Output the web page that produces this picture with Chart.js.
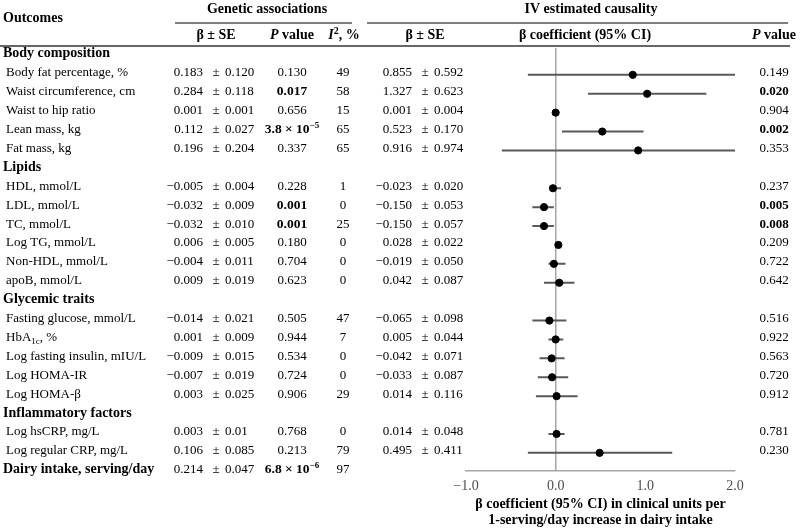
<!DOCTYPE html>
<html>
<head>
<meta charset="utf-8">
<script src="https://cdn.jsdelivr.net/npm/chart.js@4.4.1/dist/chart.umd.min.js"></script>
<style>
  body { margin: 0; background: #fff; }
</style>
</head>
<body>
<canvas id="grafico" width="800" height="532"></canvas>
<script>
// linhas da tabela ('_' = subscrito, '^' = sobrescrito)
const outcomes = [
    'Body composition', 'Body fat percentage, %', 'Waist circumference, cm', 'Waist to hip ratio',
    'Lean mass, kg', 'Fat mass, kg',
    'Lipids', 'HDL, mmol/L', 'LDL, mmol/L', 'TC, mmol/L', 'Log TG, mmol/L', 'Non-HDL, mmol/L', 'apoB, mmol/L',
    'Glycemic traits', 'Fasting glucose, mmol/L', 'HbA_1c, %', 'Log fasting insulin, mIU/L', 'Log HOMA-IR', 'Log HOMA-β',
    'Inflammatory factors', 'Log hsCRP, mg/L', 'Log regular CRP, mg/L',
    'Dairy intake, serving/day'
];
const boldRows = [0, 6, 13, 19, 22];

// Genetic associations
const genBeta = [null, '0.183', '0.284', '0.001', '0.112', '0.196', null, '−0.005', '−0.032', '−0.032', '0.006', '−0.004', '0.009',
    null, '−0.014', '0.001', '−0.009', '−0.007', '0.003', null, '0.003', '0.106', '0.214'];
const genSE = [null, '0.120', '0.118', '0.001', '0.027', '0.204', null, '0.004', '0.009', '0.010', '0.005', '0.011', '0.019',
    null, '0.021', '0.009', '0.015', '0.019', '0.025', null, '0.01', '0.085', '0.047'];
const genP = [null, '0.130', '0.017', '0.656', '3.8 × 10^−5', '0.337', null, '0.228', '0.001', '0.001', '0.180', '0.704', '0.623',
    null, '0.505', '0.944', '0.534', '0.724', '0.906', null, '0.768', '0.213', '6.8 × 10^−6'];
const genPBold = [2, 4, 8, 9, 22];
const genI2 = [null, '49', '58', '15', '65', '65', null, '1', '0', '25', '0', '0', '0',
    null, '47', '7', '0', '0', '29', null, '0', '79', '97'];

// IV estimated causality
const ivBeta = [null, '0.855', '1.327', '0.001', '0.523', '0.916', null, '−0.023', '−0.150', '−0.150', '0.028', '−0.019', '0.042',
    null, '−0.065', '0.005', '−0.042', '−0.033', '0.014', null, '0.014', '0.495', null];
const ivSE = [null, '0.592', '0.623', '0.004', '0.170', '0.974', null, '0.020', '0.053', '0.057', '0.022', '0.050', '0.087',
    null, '0.098', '0.044', '0.071', '0.087', '0.116', null, '0.048', '0.411', null];
const ivP = [null, '0.149', '0.020', '0.904', '0.002', '0.353', null, '0.237', '0.005', '0.008', '0.209', '0.722', '0.642',
    null, '0.516', '0.922', '0.563', '0.720', '0.912', null, '0.781', '0.230', null];
const ivPBold = [2, 4, 8, 9];

// pontos do forest plot
const estimativa = [null, 0.86, 1.02, 0.0, 0.52, 0.92, null, -0.03, -0.13, -0.13, 0.03, -0.02, 0.04,
    null, -0.07, 0.0, -0.045, -0.04, 0.01, null, 0.01, 0.49, null];
const icInferior = [null, -0.31, 0.36, 0.0, 0.07, -0.6, null, -0.06, -0.26, -0.26, 0.02, -0.08, -0.13,
    null, -0.26, -0.08, -0.18, -0.2, -0.22, null, -0.08, -0.31, null];
const icSuperior = [null, 2.0, 1.68, 0.0, 0.98, 2.0, null, 0.06, -0.02, -0.02, 0.04, 0.11, 0.21,
    null, 0.12, 0.085, 0.10, 0.14, 0.245, null, 0.10, 1.30, null];

const rotulosEixo = ['β coefficient (95% CI) in clinical units per', '1-serving/day increase in dairy intake'];

const SERIF = '"Liberation Serif", "Times New Roman", serif';
Chart.defaults.font.family = SERIF;

const pontos = [];
const linhasIC = [];
estimativa.forEach((v, i) => {
    if (v === null) return;
    pontos.push({ x: v, y: i });
    linhasIC.push({ x: icInferior[i], y: i }, { x: icSuperior[i], y: i }, { x: null, y: null });
});

function fonte(s) {
    let tam = s.tam || 13;
    if (s.sup || s.sub) tam = Math.round(tam * 0.7);
    return (s.i ? 'italic ' : '') + (s.b ? 'bold ' : '') + tam + 'px ' + SERIF;
}

// quebra o texto em pedaços normais / sobrescritos / subscritos
function parse(str, bold, tam) {
    const segs = [];
    const re = /([\^_])([^\s,]+)|[^\^_]+/g;
    let m;
    while ((m = re.exec(str)) !== null) {
        if (m[1] === '^') segs.push({ t: m[2], b: bold, tam: tam, sup: true });
        else if (m[1] === '_') segs.push({ t: m[2], b: bold, tam: tam, sub: true });
        else segs.push({ t: m[0], b: bold, tam: tam });
    }
    return segs;
}

function desenhaRico(ctx, segs, x, y, align) {
    let w = 0;
    segs.forEach(s => { ctx.font = fonte(s); s.w = ctx.measureText(s.t).width; w += s.w; });
    let cx = align === 'center' ? x - w / 2 : align === 'right' ? x - w : x;
    ctx.textAlign = 'left';
    segs.forEach(s => {
        ctx.font = fonte(s);
        ctx.fillText(s.t, cx, y + (s.sup ? -5 : s.sub ? 3 : 0));
        cx += s.w;
    });
}

function desenhaPM(ctx, b, se, centro, y) {
    ctx.font = '13px ' + SERIF;
    ctx.textAlign = 'right';
    ctx.fillText(b, centro - 13, y);
    ctx.textAlign = 'center';
    ctx.fillText('±', centro, y);
    ctx.textAlign = 'left';
    ctx.fillText(se, centro + 9, y);
}

function linha(ctx, x1, y1, x2, y2, cor, larg) {
    ctx.beginPath();
    ctx.strokeStyle = cor;
    ctx.lineWidth = larg;
    ctx.moveTo(x1, y1);
    ctx.lineTo(x2, y2);
    ctx.stroke();
}

const tabelaPlugin = {
    id: 'tabela',
    afterDraw(chart) {
        const ctx = chart.ctx;
        const yEsc = chart.scales.y;
        ctx.save();
        ctx.fillStyle = '#000';
        ctx.textBaseline = 'alphabetic';

        // cabeçalho
        linha(ctx, 175, 23, 352, 23, '#555', 1.5);
        linha(ctx, 367, 23, 788, 23, '#555', 1.5);
        linha(ctx, 0, 46, 790, 46, '#666', 2.2);
        const cab = (t, extra) => Object.assign({ t: t, b: true, tam: 14 }, extra || {});
        desenhaRico(ctx, [cab('Outcomes')], 3, 21.5, 'left');
        desenhaRico(ctx, [cab('Genetic associations')], 267, 12.5, 'center');
        desenhaRico(ctx, [cab('IV estimated causality')], 591, 12.5, 'center');
        desenhaRico(ctx, [cab('β ± SE')], 216, 39, 'center');
        desenhaRico(ctx, [cab('P', { i: true }), cab(' value')], 292, 39, 'center');
        desenhaRico(ctx, [cab('I', { i: true }), cab('2', { sup: true }), cab(', %')], 344, 39, 'center');
        desenhaRico(ctx, [cab('β ± SE')], 425, 39, 'center');
        desenhaRico(ctx, [cab('β coefficient (95% CI)')], 585, 39, 'center');
        desenhaRico(ctx, [cab('P', { i: true }), cab(' value')], 774, 39, 'center');

        outcomes.forEach((nome, i) => {
            const y = yEsc.getPixelForValue(i) + 1.5;
            const negrito = boldRows.includes(i);
            desenhaRico(ctx, parse(nome, negrito, negrito ? 14 : 13), negrito ? 3 : 6, y, 'left');
            if (genBeta[i] !== null) {
                const pb = genPBold.includes(i);
                desenhaPM(ctx, genBeta[i], genSE[i], 216, y);
                desenhaRico(ctx, parse(genP[i], pb, pb ? 13.5 : 13), 292, y, 'center');
                desenhaRico(ctx, [{ t: genI2[i] }], 343, y, 'center');
            }
            if (ivBeta[i] !== null) {
                desenhaPM(ctx, ivBeta[i], ivSE[i], 425, y);
                desenhaRico(ctx, parse(ivP[i], ivPBold.includes(i), 13), 774, y, 'center');
            }
        });
        ctx.restore();
    }
};

const ctx = document.getElementById('grafico').getContext('2d');

let grafico = new Chart(ctx, {
    type: 'scatter',
    data: {
        datasets: [
            {
                data: linhasIC,
                showLine: true,
                spanGaps: false,
                borderColor: '#595959',
                borderWidth: 2,
                pointRadius: 0,
                order: 2
            },
            {
                data: pontos,
                pointRadius: 3.6,
                backgroundColor: '#000',
                borderColor: '#000',
                order: 1
            }
        ]
    },
    options: {
        responsive: false,
        animation: false,
        devicePixelRatio: 1,
        layout: { padding: { left: 466, right: 65, top: 48, bottom: 0 } },
        plugins: {
            legend: { display: false },
            tooltip: { enabled: false }
        },
        scales: {
            x: {
                type: 'linear',
                min: -1,
                max: 2,
                afterFit: s => { s.height = 61; },
                ticks: {
                    stepSize: 1,
                    padding: 7,
                    color: '#4d4d4d',
                    font: { size: 14 },
                    callback: v => (v < 0 ? '−' : '') + Math.abs(v).toFixed(1)
                },
                grid: {
                    drawTicks: false,
                    lineWidth: 1.5,
                    color: c => (c.tick && c.tick.value === 0) ? '#a6a6a6' : 'rgba(0,0,0,0)'
                },
                border: { color: '#a6a6a6', width: 1.5 },
                title: {
                    display: true,
                    text: rotulosEixo,
                    color: '#000',
                    font: { size: 14, weight: 'bold', lineHeight: 1.14 },
                    padding: { top: 0, bottom: 4 }
                }
            },
            y: {
                type: 'linear',
                display: false,
                reverse: true,
                min: -0.42,
                max: 21.96
            }
        }
    },
    plugins: [tabelaPlugin]
});
</script>
</body>
</html>
